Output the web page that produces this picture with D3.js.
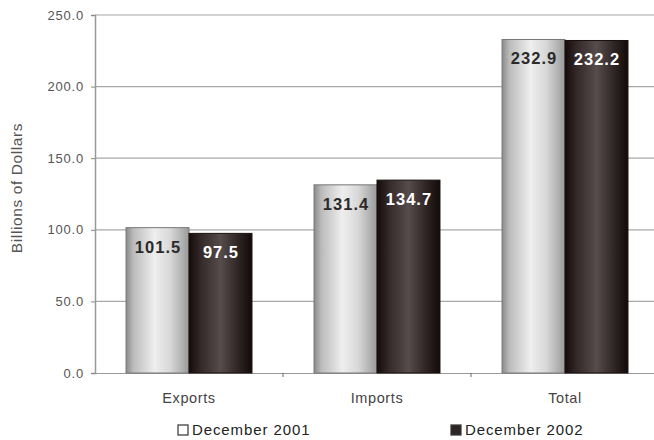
<!DOCTYPE html>
<html><head><meta charset="utf-8">
<script src="https://cdn.jsdelivr.net/npm/d3@7"></script>
<style>body{margin:0;background:#fff}svg{display:block}text{font-family:"Liberation Sans",Arial,sans-serif}</style>
</head><body><svg id="c" width="654" height="440"></svg>
<script>
const categories = ["Exports", "Imports", "Total"];
const seriesNames = ["December 2001", "December 2002"];
const dec2001 = [101.5, 131.4, 232.9];
const dec2002 = [97.5, 134.7, 232.2];
const yTicks = [0, 50, 100, 150, 200, 250];

const FONT = "Liberation Sans, Arial, sans-serif";
const svg = d3.select("#c");
const m = {l: 95, r: 659, t: 15, b: 373};
const x = d3.scaleBand().domain(categories).range([m.l, m.r]).paddingInner(0.33).paddingOuter(0.165);
const xs = d3.scaleBand().domain(seriesNames).range([0, x.bandwidth()]);
const y = d3.scaleLinear().domain([0, 250]).range([m.b, m.t]);

const defs = svg.append("defs");
function grad(id, stops) {
  const g = defs.append("linearGradient").attr("id", id).attr("x1", "0%").attr("x2", "100%");
  stops.forEach(([o, c]) => g.append("stop").attr("offset", o).attr("stop-color", c));
}
grad("gLight", [["0%", "#8a8a8a"], ["12%", "#bcbcbc"], ["45%", "#eeeeee"], ["70%", "#d8d8d8"], ["100%", "#9a9a9a"]]);
grad("gDark", [["0%", "#160c0c"], ["20%", "#362a2a"], ["50%", "#564c4c"], ["80%", "#2c2222"], ["100%", "#120a0a"]]);

// gridlines
svg.append("g").selectAll("line").data(yTicks.filter(d => d > 0)).join("line")
  .attr("x1", m.l).attr("x2", 654).attr("y1", d => y(d)).attr("y2", d => y(d))
  .attr("stroke", "#a8a8a8").attr("stroke-width", 1.2);

// y axis
const yAxis = d3.axisLeft(y).tickValues(yTicks).tickFormat(d3.format(".1f")).tickSize(4).tickPadding(7);
const ga = svg.append("g").attr("transform", `translate(${m.l},0)`).call(yAxis);
ga.select(".domain").attr("stroke", "#999").attr("stroke-width", 1.5);
ga.selectAll(".tick line").attr("stroke", "#888");
ga.selectAll(".tick text").attr("fill", "#555").attr("font-size", 13).attr("letter-spacing", 0.8).attr("font-family", FONT);

// x axis
const xAxis = d3.axisBottom(x).tickSize(0).tickPadding(20);
const gx = svg.append("g").attr("transform", `translate(0,${m.b})`).call(xAxis);
gx.select(".domain").attr("stroke", "#999").attr("stroke-width", 1.2);
gx.selectAll(".tick text").attr("fill", "#444").attr("font-size", 14.5).attr("letter-spacing", 0.6).attr("font-family", FONT);
// category separators
gx.append("g").selectAll("line").data(categories.slice(1)).join("line")
  .attr("x1", d => x(d) - x.step() * x.paddingInner() / 2).attr("x2", d => x(d) - x.step() * x.paddingInner() / 2)
  .attr("y1", 0).attr("y2", 4).attr("stroke", "#666");

const series = [
  {name: seriesNames[0], values: dec2001, fill: "url(#gLight)", stroke: "#777", text: "#2a2a2a"},
  {name: seriesNames[1], values: dec2002, fill: "url(#gDark)", stroke: "#1a1010", text: "#ffffff"}
];

series.forEach(s => {
  const g = svg.append("g");
  g.selectAll("rect").data(categories).join("rect")
    .attr("x", d => x(d) + xs(s.name)).attr("width", xs.bandwidth())
    .attr("y", (d, i) => y(s.values[i])).attr("height", (d, i) => y(0) - y(s.values[i]))
    .attr("fill", s.fill).attr("stroke", s.stroke).attr("stroke-width", 1);
  g.selectAll("text").data(categories).join("text")
    .attr("x", d => x(d) + xs(s.name) + xs.bandwidth() / 2 + 0.5)
    .attr("y", (d, i) => y(s.values[i]) + 25)
    .attr("text-anchor", "middle").attr("font-size", 16.5).attr("font-weight", "bold")
    .attr("letter-spacing", 1)
    .attr("fill", s.text)
    .text((d, i) => s.values[i].toFixed(1));
});

// y title
svg.append("text").attr("transform", "translate(22,188) rotate(-90)")
  .attr("text-anchor", "middle").attr("font-size", 15.5).attr("letter-spacing", 0.6).attr("fill", "#555")
  .text("Billions of Dollars");

// legend
const legX = [178, 451];
series.forEach((s, i) => {
  const g = svg.append("g").attr("transform", `translate(${legX[i]},425)`);
  g.append("rect").attr("width", 10).attr("height", 10).attr("fill", i === 0 ? "#fff" : "#2e2626").attr("stroke", "#333").attr("stroke-width", 1.2);
  g.append("text").attr("x", 14).attr("y", 10).attr("font-size", 15).attr("letter-spacing", 0.9).attr("fill", "#222").text(s.name);
});
</script></body></html>
